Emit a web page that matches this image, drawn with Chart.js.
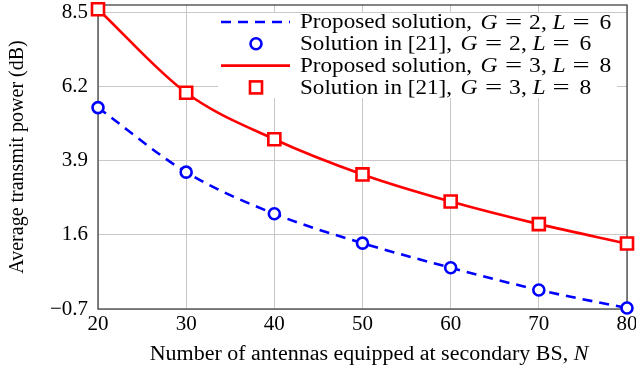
<!DOCTYPE html>
<html>
<head>
<meta charset="utf-8">
<script src="https://cdn.jsdelivr.net/npm/chart.js@4.4.1/dist/chart.umd.min.js"></script>
<style>
  html, body { margin: 0; padding: 0; background: #fff; }
  #wrap { width: 636px; height: 372px; }
</style>
</head>
<body>
<div id="wrap"><canvas id="powerChart" width="636" height="372"></canvas></div>
<script>
// number of antennas at the secondary BS
const antennas = [20, 30, 40, 50, 60, 70, 80];
// average transmit power (dB)
const powerG2L6 = [5.54, 3.54, 2.25, 1.34, 0.58, -0.11, -0.67];
const powerG3L8 = [8.59, 6.00, 4.56, 3.47, 2.63, 1.93, 1.33];
const yTicks = [-0.7, 1.6, 3.9, 6.2, 8.5];
const xTicks = [20, 30, 40, 50, 60, 70, 80];

const SERIF = '"Liberation Serif", "Times New Roman", serif';
const BLUE = '#0000ff';
const RED = '#ff0000';

function pts(ys) {
    return antennas.map((x, i) => ({ x: x, y: ys[i] }));
}

// legend rows: symbol, plain text, and the G / L values
const legendRows = [
    { kind: 'dash', color: BLUE, text: 'Proposed solution,', g: '2', l: '6' },
    { kind: 'circle', color: BLUE, text: 'Solution in [21],', g: '2', l: '6' },
    { kind: 'line', color: RED, text: 'Proposed solution,', g: '3', l: '8' },
    { kind: 'square', color: RED, text: 'Solution in [21],', g: '3', l: '8' }
];

// draw text stretched horizontally by sx; returns the end x
function drawWide(ctx, text, font, x, y, sx) {
    ctx.font = font;
    const w = ctx.measureText(text).width;
    ctx.save();
    ctx.translate(x, y);
    ctx.scale(sx, 1);
    ctx.fillText(text, 0, 0);
    ctx.restore();
    return x + w * sx;
}

const ROMAN = '20px ' + SERIF;
const ITALIC = 'italic 20px ' + SERIF;
const MATH_RM = '21px ' + SERIF;
const MATH_IT = 'italic 21px ' + SERIF;

// G = g, L = l with wide math spacing
function drawMath(ctx, x, y, g, l) {
    const sx = 1.12;
    drawWide(ctx, 'G', MATH_IT, x, y, sx);
    drawWide(ctx, '=', MATH_RM, x + 24.5, y, 1.45);
    drawWide(ctx, g, MATH_RM, x + 48.5, y, sx);
    drawWide(ctx, ',', MATH_RM, x + 60.5, y, sx);
    drawWide(ctx, 'L', MATH_IT, x + 72, y, sx);
    drawWide(ctx, '=', MATH_RM, x + 92, y, 1.45);
    drawWide(ctx, l, MATH_RM, x + 119, y, sx);
}

const framePlugin = {
    id: 'frame',
    beforeDatasetsDraw(chart) {
        const { ctx, chartArea: a } = chart;
        ctx.save();
        ctx.strokeStyle = '#444';
        ctx.lineWidth = 1.3;
        ctx.strokeRect(a.left, a.top, a.right - a.left, a.bottom - a.top);
        ctx.restore();
    },
    afterDraw(chart) {
        const { ctx } = chart;
        ctx.save();
        // legend box
        ctx.fillStyle = '#fff';
        ctx.fillRect(218, 13, 399, 85);
        ctx.textBaseline = 'middle';
        legendRows.forEach((r, i) => {
            const y = 22 + i * 21.8;
            ctx.strokeStyle = r.color;
            ctx.lineWidth = 2.6;
            ctx.setLineDash([]);
            if (r.kind === 'dash' || r.kind === 'line') {
                if (r.kind === 'dash') ctx.setLineDash([10, 7]);
                ctx.beginPath();
                ctx.moveTo(221, y);
                ctx.lineTo(290, y);
                ctx.stroke();
            } else if (r.kind === 'circle') {
                ctx.beginPath();
                ctx.arc(256, y, 5.5, 0, Math.PI * 2);
                ctx.stroke();
            } else {
                ctx.strokeRect(250, y - 6, 12, 12);
            }
            ctx.setLineDash([]);
            ctx.fillStyle = '#000';
            const end = drawWide(ctx, r.text, ROMAN, 300, y + 1, 1.155);
            drawMath(ctx, end + 8.5, y + 1, r.g, r.l);
        });
        // x-axis title with italic N
        const sx = 1.1;
        const t1 = 'Number of antennas equipped at secondary BS, ';
        ctx.font = ROMAN;
        const w1 = ctx.measureText(t1).width * sx;
        ctx.font = ITALIC;
        const w2 = ctx.measureText('N').width * sx;
        const x0 = 369 - (w1 + w2) / 2;
        ctx.fillStyle = '#000';
        const xe = drawWide(ctx, t1, ROMAN, x0, 355, sx);
        drawWide(ctx, 'N', ITALIC, xe, 355, sx);
        ctx.restore();
    }
};

new Chart(document.getElementById('powerChart').getContext('2d'), {
    type: 'line',
    data: {
        datasets: [{
            label: 'Proposed solution, G = 2, L = 6',
            data: pts(powerG2L6),
            borderColor: BLUE,
            borderWidth: 2.6,
            borderDash: [10, 7],
            cubicInterpolationMode: 'monotone',
            pointStyle: 'circle',
            pointRadius: 5.5,
            pointBorderWidth: 2.6,
            pointBorderColor: BLUE,
            pointBackgroundColor: '#fff',
            clip: false
        }, {
            label: 'Proposed solution, G = 3, L = 8',
            data: pts(powerG3L8),
            borderColor: RED,
            borderWidth: 2.6,
            cubicInterpolationMode: 'monotone',
            pointStyle: 'rect',
            pointRadius: 8.5,
            pointBorderWidth: 2.6,
            pointBorderColor: RED,
            pointBackgroundColor: '#fff',
            clip: false
        }]
    },
    options: {
        responsive: false,
        animation: false,
        layout: { autoPadding: false, padding: { top: 5, right: 9, left: 0, bottom: 0 } },
        plugins: { legend: { display: false }, tooltip: { enabled: false } },
        scales: {
            x: {
                type: 'linear',
                min: 20,
                max: 80,
                afterBuildTicks(scale) { scale.ticks = xTicks.map(v => ({ value: v })); },
                afterFit(scale) {
                    scale.height = 63;
                    scale.paddingLeft = 0;
                    scale.paddingRight = 0;
                    scale.paddingTop = 0;
                    scale.paddingBottom = 0;
                },
                grid: { color: '#c8c8c8', lineWidth: 1, drawTicks: false },
                border: { display: false },
                ticks: { color: '#000', padding: 3, font: { family: SERIF, size: 21 }, maxRotation: 0 }
            },
            y: {
                type: 'linear',
                min: -0.7,
                max: 8.72,
                afterBuildTicks(scale) { scale.ticks = yTicks.map(v => ({ value: v })); },
                afterFit(scale) {
                    scale.width = 98;
                    scale.paddingTop = 0;
                    scale.paddingBottom = 0;
                },
                grid: { color: '#c8c8c8', lineWidth: 1, drawTicks: false },
                border: { display: false },
                ticks: {
                    color: '#000',
                    padding: 10,
                    font: { family: SERIF, size: 21 },
                    callback: v => (v < 0 ? '\u2212' + Math.abs(v).toFixed(1) : v.toFixed(1))
                },
                title: {
                    display: true,
                    text: 'Average transmit power (dB)',
                    color: '#000',
                    font: { family: SERIF, size: 20 },
                    padding: { top: 6, bottom: 0 }
                }
            }
        }
    },
    plugins: [framePlugin]
});
</script>
</body>
</html>
